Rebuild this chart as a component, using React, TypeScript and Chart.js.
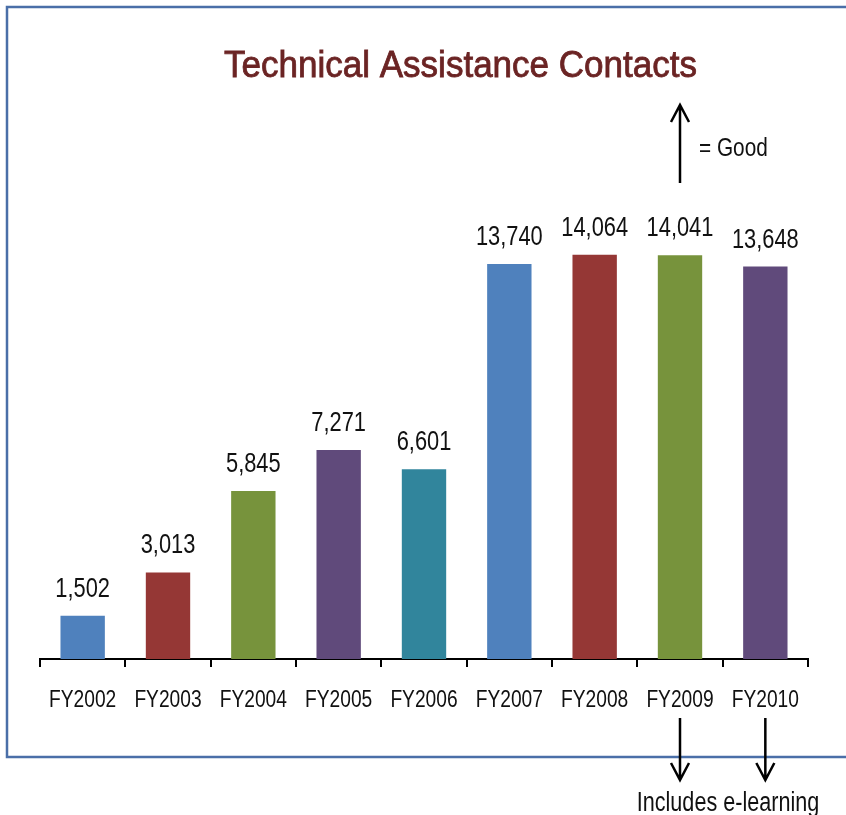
import React, { useEffect, useRef } from "react";
import { Chart, registerables } from "chart.js";

Chart.register(...registerables);

const categories = ["FY2002", "FY2003", "FY2004", "FY2005", "FY2006", "FY2007", "FY2008", "FY2009", "FY2010"];
const contacts = [1502, 3013, 5845, 7271, 6601, 13740, 14064, 14041, 13648];
const barColors = ["#4f81bd", "#953735", "#77933c", "#604a7b", "#31859c", "#4f81bd", "#953735", "#77933c", "#604a7b"];
const titleText = "Technical Assistance Contacts";
const goodText = "= Good";
const noteText = "Includes e-learning";
const noteCategories = ["FY2009", "FY2010"];

const FONT = "'Liberation Sans', Arial, sans-serif";
const NARROW = 0.8;

function text(
  ctx: CanvasRenderingContext2D,
  s: string,
  x: number,
  y: number,
  font: string,
  align: CanvasTextAlign,
  sx: number,
  color: string,
  strokeW = 0
) {
  ctx.save();
  ctx.font = font;
  ctx.fillStyle = color;
  ctx.textAlign = align;
  ctx.textBaseline = "alphabetic";
  ctx.translate(x, y);
  ctx.scale(sx, 1);
  ctx.fillText(s, 0, 0);
  if (strokeW > 0) {
    ctx.strokeStyle = color;
    ctx.lineWidth = strokeW;
    ctx.strokeText(s, 0, 0);
  }
  ctx.restore();
}

function arrow(ctx: CanvasRenderingContext2D, x: number, y1: number, y2: number) {
  const dir = y2 > y1 ? 1 : -1;
  ctx.beginPath();
  ctx.moveTo(x, y1);
  ctx.lineTo(x, y2);
  ctx.moveTo(x - 9, y2 - dir * 17);
  ctx.lineTo(x, y2);
  ctx.lineTo(x + 9, y2 - dir * 17);
  ctx.stroke();
}

const decorPlugin = {
  id: "decor",
  afterDraw(chart: any) {
    const ctx = chart.ctx as CanvasRenderingContext2D;
    const xs = chart.scales.x;
    const meta = chart.getDatasetMeta(0);
    ctx.save();
    // frame
    ctx.strokeStyle = "#4a6fa8";
    ctx.lineWidth = 2.5;
    ctx.strokeRect(7, 7, 870, 750);
    // title
    const tf = `36px ${FONT}`;
    ctx.font = tf;
    const tw = ctx.measureText(titleText).width;
    text(ctx, titleText, 460.5, 77, tf, "center", 473 / tw, "#6b2424", 0.8);
    // value labels
    meta.data.forEach((bar: any, i: number) => {
      text(ctx, contacts[i].toLocaleString("en-US"), bar.x, bar.y - 19, `28px ${FONT}`, "center", 0.78, "#111");
    });
    // category labels
    categories.forEach((c, i) => {
      text(ctx, c, xs.getPixelForValue(i), 707, `24px ${FONT}`, "center", NARROW, "#111");
    });
    // up arrow
    ctx.strokeStyle = "#000";
    ctx.lineWidth = 2.5;
    arrow(ctx, 680, 183, 105);
    text(ctx, goodText, 699, 156, `26px ${FONT}`, "left", NARROW, "#111");
    // down arrows
    noteCategories.forEach((c) => {
      const x = xs.getPixelForValue(categories.indexOf(c));
      arrow(ctx, x, 718, 780);
    });
    text(ctx, noteText, 728, 811, `27px ${FONT}`, "center", NARROW, "#111");
    ctx.restore();
  },
};

export default function App() {
  const ref = useRef<HTMLCanvasElement>(null);
  useEffect(() => {
    const chart = new Chart(ref.current!, {
      type: "bar",
      data: {
        labels: categories,
        datasets: [
          {
            data: contacts,
            backgroundColor: barColors,
            barPercentage: 0.52,
            categoryPercentage: 1,
          },
        ],
      },
      options: {
        responsive: false,
        animation: false,
        layout: { padding: { left: 40, right: 38, top: 199, bottom: 0 } },
        plugins: { legend: { display: false }, tooltip: { enabled: false }, title: { display: false } },
        scales: {
          x: {
            offset: true,
            grid: { offset: true, drawOnChartArea: false, drawTicks: true, tickLength: 8, color: "#000", lineWidth: 2 },
            border: { display: true, color: "#000", width: 2 },
            ticks: { display: false },
            afterFit: (s: any) => {
              s.height = 156;
            },
          },
          y: { display: false, min: 0, max: 16000 },
        },
      },
      plugins: [decorPlugin],
    });
    return () => chart.destroy();
  }, []);
  return (
    <div style={{ position: "fixed", left: 0, top: 0, width: 846, height: 815, background: "#fff" }}>
      <canvas ref={ref} width={846} height={815} style={{ display: "block" }} />
    </div>
  );
}
